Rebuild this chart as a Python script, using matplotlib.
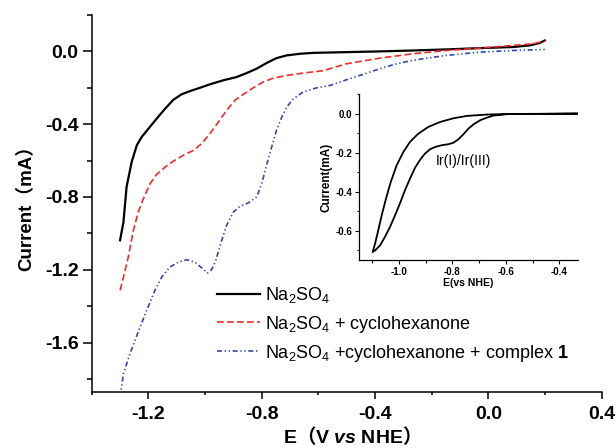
import matplotlib
matplotlib.use("Agg")
import matplotlib.pyplot as plt
from matplotlib.ticker import MultipleLocator

plt.rcParams['font.family'] = ['Liberation Sans', 'Noto Sans CJK SC', 'DejaVu Sans']
plt.rcParams['mathtext.fontset'] = 'custom'
plt.rcParams['mathtext.rm'] = 'Liberation Sans'
plt.rcParams['mathtext.sf'] = 'Liberation Sans'
plt.rcParams['mathtext.it'] = 'Liberation Sans:italic:bold'
plt.rcParams['mathtext.bf'] = 'Liberation Sans:bold'
plt.rcParams['mathtext.tt'] = 'Noto Sans CJK SC:bold'

# ---- data ----
black_x = [-1.300, -1.288, -1.277, -1.259, -1.241, -1.224, -1.200, -1.171, -1.141, -1.112,
           -1.083, -1.053, -1.018, -0.983, -0.936, -0.889, -0.853, -0.818, -0.783, -0.748,
           -0.712, -0.665, -0.618, -0.530, -0.383, -0.266, -0.148, -0.030, 0.087, 0.146,
           0.181, 0.199]
black_y = [-1.038, -0.938, -0.745, -0.608, -0.516, -0.471, -0.425, -0.370, -0.315, -0.266,
           -0.236, -0.218, -0.200, -0.181, -0.159, -0.141, -0.119, -0.095, -0.064, -0.037,
           -0.022, -0.013, -0.008, -0.005, 0.000, 0.005, 0.011, 0.018, 0.024, 0.033,
           0.046, 0.060]

red_x = [-1.300, -1.288, -1.271, -1.253, -1.236, -1.218, -1.194, -1.171, -1.141, -1.112,
         -1.077, -1.041, -1.012, -0.983, -0.953, -0.924, -0.895, -0.865, -0.830, -0.795,
         -0.759, -0.712, -0.654, -0.583, -0.501, -0.383, -0.266, -0.148, -0.030, 0.087,
         0.158, 0.199]
red_y = [-1.313, -1.240, -1.130, -0.984, -0.883, -0.810, -0.727, -0.676, -0.636, -0.603,
         -0.571, -0.544, -0.507, -0.452, -0.388, -0.324, -0.269, -0.236, -0.200, -0.168,
         -0.147, -0.132, -0.119, -0.106, -0.068, -0.037, -0.013, 0.005, 0.018, 0.033,
         0.042, 0.057]

blue_x = [-1.300, -1.288, -1.265, -1.236, -1.206, -1.177, -1.153, -1.124, -1.094, -1.065,
          -1.036, -1.012, -0.992, -0.977, -0.962, -0.945, -0.924, -0.900, -0.877, -0.848,
          -0.818, -0.800, -0.783, -0.765, -0.748, -0.730, -0.712, -0.689, -0.654, -0.606,
          -0.559, -0.501, -0.442, -0.383, -0.324, -0.266, -0.207, -0.148, -0.089, -0.030,
          0.087, 0.199]
blue_y = [-1.900, -1.771, -1.661, -1.542, -1.423, -1.313, -1.240, -1.185, -1.158, -1.145,
          -1.158, -1.189, -1.218, -1.200, -1.148, -1.057, -0.956, -0.883, -0.852, -0.833,
          -0.800, -0.727, -0.626, -0.526, -0.434, -0.364, -0.306, -0.262, -0.223, -0.200,
          -0.187, -0.156, -0.126, -0.095, -0.068, -0.049, -0.035, -0.022, -0.013, -0.004,
          0.005, 0.011]

inset_x = [-0.328, -0.496, -0.596, -0.646, -0.671, -0.696, -0.721, -0.740, -0.759, -0.778,
           -0.796, -0.815, -0.840, -0.865, -0.884, -0.903, -0.921, -0.940, -0.959, -0.978,
           -0.996, -1.015, -1.034, -1.053, -1.071, -1.090, -1.099,
           -1.090, -1.078, -1.065, -1.049, -1.031, -1.009, -0.984, -0.959, -0.928, -0.890,
           -0.846, -0.796, -0.746, -0.671, -0.571, -0.328]
inset_y = [0.000, -0.002, -0.003, -0.010, -0.021, -0.034, -0.055, -0.077, -0.106, -0.132,
           -0.149, -0.157, -0.162, -0.171, -0.183, -0.205, -0.236, -0.277, -0.333, -0.393,
           -0.458, -0.521, -0.581, -0.632, -0.675, -0.701, -0.709,
           -0.667, -0.598, -0.521, -0.436, -0.350, -0.265, -0.197, -0.145, -0.103, -0.068,
           -0.043, -0.024, -0.012, -0.005, -0.002, 0.000]

labels = ["Na$_2$SO$_4$",
          "Na$_2$SO$_4$ + cyclohexanone",
          "Na$_2$SO$_4$ +cyclohexanone + complex $\\mathbf{1}$"]
x_ticks = [-1.2, -0.8, -0.4, 0.0, 0.4]
y_ticks = [0.0, -0.4, -0.8, -1.2, -1.6]
inset_xticks = [-1.0, -0.8, -0.6, -0.4]
inset_yticks = [0.0, -0.2, -0.4, -0.6]

fig = plt.figure(figsize=(6.16, 4.48), dpi=100)
ax = fig.add_axes([0.1489, 0.1257, 0.8279, 0.8408])

ax.plot(black_x, black_y, color='black', lw=1.6, label=labels[0])
ax.plot(red_x, red_y, color='#f02a2a', lw=1.2, dashes=(4, 2), label=labels[1])
ax.plot(blue_x, blue_y, color='#3345b0', lw=1.2, dashes=(3, 1.6, 0.8, 1.6, 0.8, 1.6),
        label=labels[2])

ax.set_xlim(-1.4, 0.4)
ax.set_ylim(-1.87, 0.2)
for s in ['top', 'right']:
    ax.spines[s].set_visible(False)
for s in ['left', 'bottom']:
    ax.spines[s].set_linewidth(1.1)
ax.set_xticks(x_ticks)
ax.set_yticks(y_ticks)
ax.set_xticklabels([f"{v:.1f}" for v in x_ticks])
ax.set_yticklabels([f"{v:.1f}" for v in y_ticks])
ax.xaxis.set_minor_locator(MultipleLocator(0.2))
ax.yaxis.set_minor_locator(MultipleLocator(0.2))
ax.tick_params(axis='x', which='major', direction='out', length=5, width=1.1, pad=5, labelsize=14)
ax.tick_params(axis='y', which='major', direction='out', length=6.5, width=1.1, pad=3, labelsize=14)
ax.tick_params(axis='x', which='minor', direction='out', length=2.5, width=1.1)
ax.tick_params(axis='y', which='minor', direction='out', length=3.6, width=1.1)
for t in ax.get_xticklabels() + ax.get_yticklabels():
    t.set_fontweight('bold')

ax.set_xlabel("E$\\mathtt{（}$V $\\mathit{vs}$ NHE$\\mathtt{）}$", fontsize=14,
              fontweight='bold', labelpad=1)
ax.set_ylabel("Current（mA）", fontsize=13.5, fontweight='bold', labelpad=7)

leg = ax.legend(loc='upper left', bbox_to_anchor=(0.245, 0.282), frameon=False,
                fontsize=13, handlelength=2.4, handletextpad=0.3, labelspacing=0.45,
                borderpad=0, borderaxespad=0)

# ---- inset ----
ins = fig.add_axes([0.5828, 0.4196, 0.3555, 0.3705])
ins.plot(inset_x, inset_y, color='black', lw=1.3)
ins.set_xlim(-1.15, -0.33)
ins.set_ylim(-0.75, 0.1)
for s in ['top', 'right']:
    ins.spines[s].set_visible(False)
for s in ['left', 'bottom']:
    ins.spines[s].set_linewidth(0.9)
ins.set_xticks(inset_xticks)
ins.set_yticks(inset_yticks)
ins.set_xticklabels([f"{v:.1f}" for v in inset_xticks])
ins.set_yticklabels([f"{v:.1f}" for v in inset_yticks])
ins.xaxis.set_minor_locator(MultipleLocator(0.1))
ins.yaxis.set_minor_locator(MultipleLocator(0.1))
ins.tick_params(which='major', direction='out', length=3, width=0.8, pad=2, labelsize=7)
ins.tick_params(which='minor', direction='out', length=1.8, width=0.8)
for t in ins.get_xticklabels() + ins.get_yticklabels():
    t.set_fontweight('bold')
ins.set_xlabel("E(vs NHE)", fontsize=7.5, fontweight='bold', labelpad=1)
ins.set_ylabel("Current(mA)", fontsize=8.5, fontweight='bold', labelpad=2)
ins.text(-0.759, -0.243, "Ir(I)/Ir(III)", fontsize=10, ha='center', va='center')

fig.savefig("out.png", dpi=100)
